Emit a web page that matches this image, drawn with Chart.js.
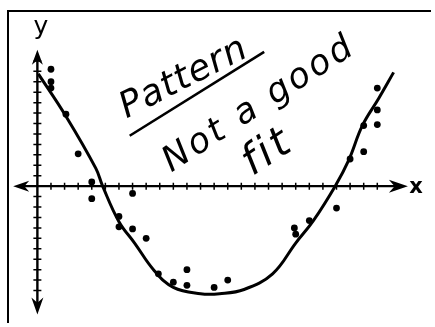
<!DOCTYPE html>
<html>
<head>
<meta charset="utf-8">
<script src="https://cdn.jsdelivr.net/npm/chart.js@4.4.1/dist/chart.umd.min.js"></script>
<style>
  html, body { margin: 0; padding: 0; background: #fff; }
  #wrap { width: 435px; height: 327px; }
</style>
</head>
<body>
<div id="wrap"><canvas id="sketch"></canvas></div>
<script>
// scattered observations
const dotX = [1, 1, 1, 2.1, 3, 4, 4, 7, 6, 6, 7, 8, 8.9, 10, 11, 11, 13, 14, 18.9, 19, 20, 22, 23, 24, 24, 25, 25, 25];
const dotY = [11.2, 10, 9.4, 6.9, 3.1, 0.4, -1.2, -0.7, -2.9, -3.9, -4.1, -5, -8.4, -9.2, -8, -9.5, -9.7, -9, -4, -4.6, -3.3, -2.1, 2.6, 3.3, 5.8, 5.9, 7.3, 9.4];

// hand drawn curve through them
const curveX = [0.07, 2.1, 4.3, 4.8, 6, 7.15, 8.6, 10, 12, 13.4, 15.2, 17.3, 19, 20.3, 21.9, 22.9, 23.9, 25.1, 26.2];
const curveY = [10.75, 6.7, 1.7, 0, -3.4, -5.45, -8.1, -9.7, -10.3, -10.3, -9.9, -8.4, -5.45, -3.3, 0, 2.5, 5.8, 8.4, 10.9];

const xTickValues = [1, 2, 3, 4, 5, 6, 7, 8, 9, 10, 11, 12, 13, 14, 15, 16, 17, 18, 19, 20, 21, 22, 23, 24, 25];
const yTickValues = [-10, -9, -8, -7, -6, -5, -4, -3, -2, -1, 1, 2, 3, 4, 5, 6, 7, 8, 9, 10, 11, 12];

const xAxisEnds = [-1.78, 27.25];
const yAxisEnds = [-12.3, 13.06];

const toPts = (xs, ys) => xs.map((x, i) => ({ x: x, y: ys[i] }));

function drawNote(ctx, text, px, py, angle, size, spacing) {
  ctx.save();
  ctx.translate(px, py);
  ctx.rotate((-angle * Math.PI) / 180);
  ctx.font = "italic " + size + 'px "DejaVu Sans"';
  ctx.letterSpacing = spacing + "px";
  ctx.textAlign = "center";
  ctx.textBaseline = "alphabetic";
  ctx.fillText(text, 0, 0);
  ctx.restore();
}

const sketchAxes = {
  id: "sketchAxes",
  beforeDatasetsDraw(chart) {
    const ctx = chart.ctx;
    const xs = chart.scales.x;
    const ys = chart.scales.y;
    const ca = chart.chartArea;
    const ox = xs.getPixelForValue(0);
    const oy = ys.getPixelForValue(0);
    ctx.save();
    ctx.strokeStyle = "#000";
    ctx.fillStyle = "#000";

    // paper frame (left and top edge only)
    ctx.lineWidth = 2;
    ctx.beginPath();
    ctx.moveTo(ca.right, ca.top + 7);
    ctx.lineTo(ca.left + 4, ca.top + 7);
    ctx.lineTo(ca.left + 4, ca.bottom);
    ctx.stroke();

    // axes
    const xl = xs.getPixelForValue(xAxisEnds[0]);
    const xr = xs.getPixelForValue(xAxisEnds[1]);
    const yb = ys.getPixelForValue(yAxisEnds[0]);
    const yt = ys.getPixelForValue(yAxisEnds[1]);
    ctx.lineWidth = 2.4;
    ctx.beginPath();
    ctx.moveTo(xl + 8, oy);
    ctx.lineTo(xr - 8, oy);
    ctx.moveTo(ox, yt + 8);
    ctx.lineTo(ox, yb - 8);
    ctx.stroke();

    // ticks
    ctx.lineWidth = 1.5;
    ctx.beginPath();
    xTickValues.forEach((v) => {
      const p = xs.getPixelForValue(v);
      ctx.moveTo(p, oy - 3.5);
      ctx.lineTo(p, oy + 3.5);
    });
    yTickValues.forEach((v) => {
      const p = ys.getPixelForValue(v);
      ctx.moveTo(ox - 4, p);
      ctx.lineTo(ox + 4, p);
    });
    ctx.stroke();

    // arrow heads
    const arrow = (tx, ty, dx, dy, len, half) => {
      const nx = -dy, ny = dx;
      ctx.beginPath();
      ctx.moveTo(tx, ty);
      ctx.lineTo(tx - dx * len + nx * half, ty - dy * len + ny * half);
      ctx.lineTo(tx - dx * len * 0.7, ty - dy * len * 0.7);
      ctx.lineTo(tx - dx * len - nx * half, ty - dy * len - ny * half);
      ctx.closePath();
      ctx.fill();
    };
    arrow(ox, yt, 0, -1, 15, 5.5);
    arrow(ox, yb, 0, 1, 17, 6);
    arrow(xl, oy, -1, 0, 16, 5.5);
    arrow(xr, oy, 1, 0, 19, 6.5);

    // axis letters
    ctx.textAlign = "center";
    ctx.textBaseline = "middle";
    ctx.font = '25px "DejaVu Sans"';
    ctx.fillText("y", xs.getPixelForValue(0.25), ys.getPixelForValue(15.2));
    ctx.font = 'bold 21px "DejaVu Sans"';
    ctx.fillText("x", xs.getPixelForValue(27.85), ys.getPixelForValue(-0.15));

    // handwritten notes
    drawNote(ctx, "Pattern", xs.getPixelForValue(11.1), ys.getPixelForValue(9.5), 27, 36, 1);
    ctx.lineWidth = 2.6;
    ctx.beginPath();
    ctx.moveTo(xs.getPixelForValue(6.79), ys.getPixelForValue(4.83));
    ctx.lineTo(xs.getPixelForValue(16.68), ys.getPixelForValue(12.87));
    ctx.stroke();
    drawNote(ctx, "Not a good", xs.getPixelForValue(16.7), ys.getPixelForValue(7.1), 33, 35, 3);
    drawNote(ctx, "fit", xs.getPixelForValue(17.4), ys.getPixelForValue(2.3), 33, 42, 3);

    ctx.restore();
  },
};

new Chart(document.getElementById("sketch"), {
  type: "scatter",
  data: {
    datasets: [
      {
        type: "line",
        data: toPts(curveX, curveY),
        borderColor: "#000",
        borderWidth: 3,
        pointRadius: 0,
        tension: 0.4,
        fill: false,
      },
      {
        data: toPts(dotX, dotY),
        backgroundColor: "#000",
        borderWidth: 0,
        pointRadius: 3.4,
      },
    ],
  },
  options: {
    responsive: true,
    maintainAspectRatio: false,
    animation: false,
    events: [],
    layout: { padding: 0 },
    plugins: {
      legend: { display: false },
      tooltip: { enabled: false },
    },
    scales: {
      x: { type: "linear", min: -2.455, max: 28.95, display: false },
      y: { type: "linear", min: -13.11, max: 17.45, display: false },
    },
  },
  plugins: [sketchAxes],
});
</script>
</body>
</html>
